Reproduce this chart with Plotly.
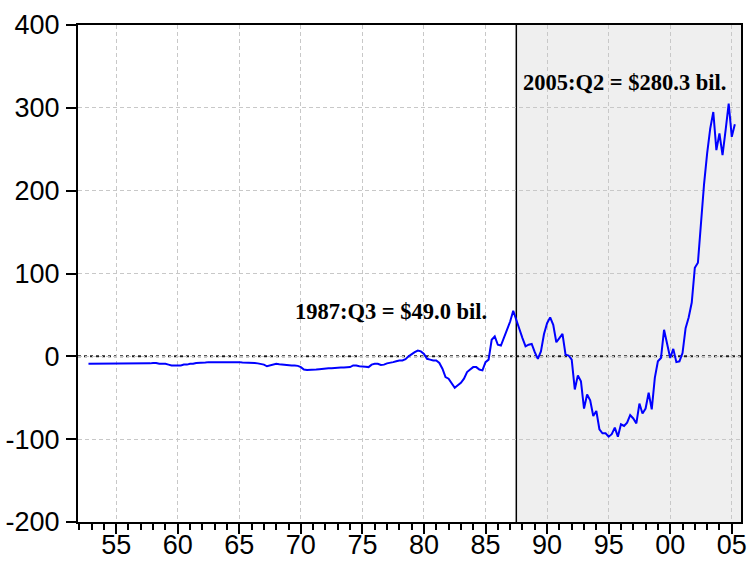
import plotly.graph_objects as go

# Quarterly data, 1952Q4 .. 2005Q2 (billions of dollars)
start_year = 1952
start_quarter = 4
values = [
    -9,                      # 1952 Q4
    -9, -9, -9, -9,          # 1953
    -9, -9, -9, -9,          # 1954
    -9, -9, -9, -9,          # 1955
    -9, -9, -9, -9,          # 1956
    -9, -9, -8.5, -8.5,      # 1957
    -8, -8, -9, -9,          # 1958
    -9, -10, -11, -11,       # 1959
    -11, -11, -10, -10,      # 1960
    -9, -9, -8, -8,          # 1961
    -8, -7.5, -7, -7,        # 1962
    -7, -7, -6.5, -6.5,      # 1963
    -6.5, -7, -7, -7,        # 1964
    -7, -7.5, -7.5, -8,      # 1965
    -8, -8, -8.5, -9,        # 1966
    -10, -12, -11, -10,      # 1967
    -9, -9.5, -10, -10.5,    # 1968
    -11, -11, -11, -11.5,    # 1969
    -13, -16, -16.5, -16.5,  # 1970
    -16, -16, -15.5, -15,    # 1971
    -15, -14.5, -14.5, -14,  # 1972
    -14, -13.5, -13.5, -13,  # 1973
    -13, -11, -11, -12,      # 1974
    -12, -12.5, -13, -10,    # 1975
    -9, -9, -10.5, -10,      # 1976
    -8.5, -8, -7, -6,        # 1977
    -5, -5, -3.5, 0,         # 1978
    3, 5, 7, 6,              # 1979
    3, -3, -4, -5,           # 1980
    -5, -8, -15, -25,        # 1981
    -27, -33, -38, -35,      # 1982
    -32, -27, -19, -16,      # 1983
    -13, -13, -16, -17,      # 1984
    -7, -4, 20, 24,          # 1985
    14, 13, 22, 33,          # 1986
    42, 55, 45, 33,          # 1987
    22, 12, 14, 15,          # 1988
    5, -3, 6, 27,            # 1989
    40, 47, 38, 17,          # 1990
    22, 27, 2, 1,            # 1991
    -4, -40, -23, -30,       # 1992
    -63, -46, -53, -72,      # 1993
    -66, -88, -93, -93,      # 1994
    -97, -94, -86, -97,      # 1995
    -82, -84, -80, -71,      # 1996
    -75, -81, -57, -69,      # 1997
    -63, -44, -64, -26,      # 1998
    -6, -2, 32, 14,          # 1999
    -2, 9, -7, -6,           # 2000
    4, 34, 47, 65,           # 2001
    107, 113, 166, 208,      # 2002
    245, 275, 295, 249,      # 2003
    269, 243, 273, 305,      # 2004
    265, 280.3,              # 2005
]

# decimal-year dates for each quarter
dates = []
y, q = start_year, start_quarter
for _ in values:
    dates.append(y + (q - 1) / 4)
    q += 1
    if q > 4:
        q = 1
        y += 1

x_tick_years = [1955, 1960, 1965, 1970, 1975, 1980, 1985, 1990, 1995, 2000, 2005]
x_tick_labels = ["55", "60", "65", "70", "75", "80", "85", "90", "95", "00", "05"]
y_tick_values = [-200, -100, 0, 100, 200, 300, 400]
y_tick_labels = ["-200", "-100", "0", "100", "200", "300", "400"]

shade_start = 1987.5
annot_1 = "1987:Q3 = $49.0 bil."
annot_2 = "2005:Q2 = $280.3 bil."

fig = go.Figure()
fig.add_trace(go.Scatter(x=dates, y=values, mode="lines",
                         line=dict(color="#0000ff", width=2), showlegend=False,
                         hoverinfo="x+y"))

fig.add_shape(type="rect", xref="x", yref="paper", x0=shade_start, x1=2005.75,
              y0=0, y1=1, fillcolor="#efefef", line=dict(width=0), layer="below")
fig.add_shape(type="line", xref="paper", yref="y", x0=0, x1=1, y0=0, y1=0,
              line=dict(color="#222222", width=2, dash="dot"), layer="between")
fig.add_shape(type="line", xref="x", yref="paper", x0=shade_start, x1=shade_start,
              y0=0, y1=1, line=dict(color="black", width=1.5), layer="between")

ann_font = dict(family="Liberation Serif, Times New Roman, serif", size=22.5, color="black")
fig.add_annotation(x=1985.3, y=54, xref="x", yref="y", text="<b>%s</b>" % annot_1,
                   showarrow=False, xanchor="right", yanchor="middle", font=ann_font)
fig.add_annotation(x=1987.9, y=331, xref="x", yref="y", text="<b>%s</b>" % annot_2,
                   showarrow=False, xanchor="left", yanchor="middle", font=ann_font)

tick_font = dict(family="Liberation Sans, Arial, sans-serif", size=27, color="black")
fig.update_xaxes(range=[1951.9, 2005.75], tickmode="array", tickvals=x_tick_years,
                 ticktext=x_tick_labels, ticks="outside", ticklen=10, tickwidth=1.5,
                 tickcolor="black", showline=True, linecolor="black", linewidth=2,
                 mirror=True, showgrid=True, gridcolor="#c8c8c8", griddash="4px,3px",
                 gridwidth=1, zeroline=False, tickfont=tick_font, automargin=False,
                 ticklabelstandoff=-12,
                 minor=dict(tickmode="linear", tick0=1952, dtick=1, ticks="outside",
                            ticklen=6, tickwidth=1.5, tickcolor="black", showgrid=False))
fig.update_yaxes(range=[-200, 400], tickmode="array", tickvals=y_tick_values,
                 ticktext=y_tick_labels, ticks="outside", ticklen=10, tickwidth=1.5,
                 tickcolor="black", showline=True, linecolor="black", linewidth=2,
                 mirror=True, showgrid=True, gridcolor="#c8c8c8", griddash="4px,3px",
                 gridwidth=1, zeroline=False, tickfont=tick_font, automargin=False,
                 ticklabelstandoff=1)

fig.update_layout(width=747, height=565, margin=dict(l=78, r=6, t=25, b=43),
                  paper_bgcolor="white", plot_bgcolor="white")

fig.write_html("out.html", config={"displayModeBar": False},
               post_script="document.body.style.margin='0';document.body.style.padding='0';")
